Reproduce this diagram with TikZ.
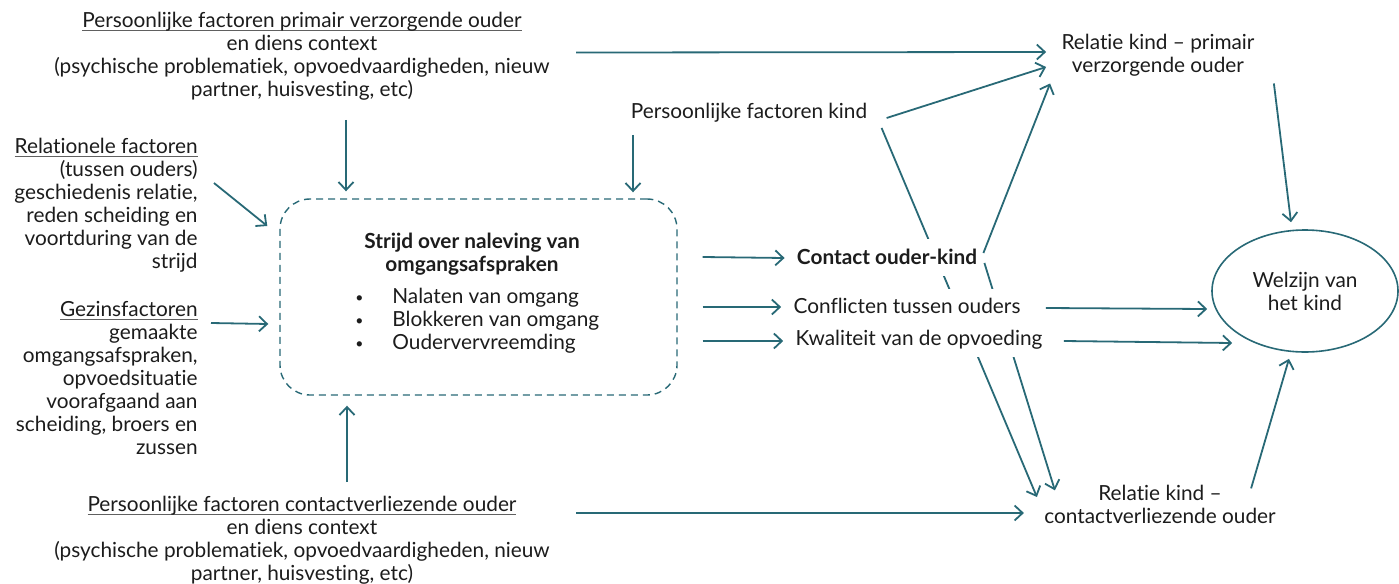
\documentclass[tikz,border=0pt]{standalone}
\usepackage{fontspec}
\setmainfont{Lato}[Ligatures={TeX,NoCommon}]
\usetikzlibrary{arrows.meta}
\usetikzlibrary{shapes.geometric}
\usetikzlibrary{backgrounds}
\usetikzlibrary{calc}

\definecolor{lijn}{RGB}{40,105,118}
\definecolor{tekst}{RGB}{28,28,28}

% underline just below the baseline
\newcommand{\ondlijn}[1]{\setbox0\hbox{#1}\rlap{\color{tekst!70}\rule[-1.6pt]{\wd0}{0.45pt}}\box0}
% small bullet for the list
\newcommand{\punt}{\makebox[18.5pt][l]{\raisebox{0.4pt}{\fontsize{7}{7}\selectfont\textbullet}}}

\tikzset{
  txt/.style={font=\fontsize{10.4}{11.5}\selectfont, text=tekst, inner sep=0pt},
  vet/.style={txt, font=\fontsize{10.4}{11.5}\selectfont\bfseries},
  midden/.style={txt, fill=white, inner xsep=1pt, minimum height=17pt},
  pijl/.style={draw=lijn, line width=0.9pt, -{Straight Barb[length=4pt,width=7.5pt,line width=0.9pt]}},
}

\begin{document}
\begin{tikzpicture}[x=0.5pt,y=-0.5pt]
    \useasboundingbox (0,0) rectangle (1399,584);

    % factors round the conflict
    \node[txt, align=center] (prim) at (302,56.5) {\ondlijn{Persoonlijke factoren primair verzorgende ouder}\\en diens context\\(psychische problematiek, opvoedvaardigheden, nieuw\\partner, huisvesting, etc)};
    \node[txt, align=right, anchor=east] (relat) at (198,205) {\ondlijn{Relationele factoren}\\(tussen ouders)\\geschiedenis relatie,\\reden scheiding en\\voortduring van de\\strijd};
    \node[txt, align=right, anchor=east] (gezin) at (198,378) {\ondlijn{Gezinsfactoren}\\gemaakte\\omgangsafspraken,\\opvoedsituatie\\voorafgaand aan\\scheiding, broers en\\zussen};
    \node[txt, align=center] (verl) at (302,540.5) {\ondlijn{Persoonlijke factoren contactverliezende ouder}\\en diens context\\(psychische problematiek, opvoedvaardigheden, nieuw\\partner, huisvesting, etc)};
    \node[txt] (kind) at (749,113) {Persoonlijke factoren kind};

    % the conflict itself
    \node[draw=lijn, line width=0.7pt, dash pattern=on 3.5pt off 2.5pt, rounded corners=15pt, minimum width=198.5pt, minimum height=98pt] (strijd) at (478.5,297) {};
    \node[vet, align=center] (titel) at (472,254) {Strijd over naleving van\\omgangsafspraken};
    \node[txt, align=left, anchor=west] (lijst) at (355,321) {\punt Nalaten van omgang\\\punt Blokkeren van omgang\\\punt Oudervervreemding};

    % what it leads to
    \node[vet, fill=white, inner xsep=1pt, minimum height=18.5pt] (contact) at (887,257) {Contact ouder-kind};
    \node[midden] (conflict) at (907,306) {Conflicten tussen ouders};
    \node[midden] (kwal) at (919,340) {Kwaliteit van de opvoeding};
    \node[txt, align=center] (relprim) at (1158,55) {Relatie kind -- primair\\verzorgende ouder};
    \node[txt, align=center] (relverl) at (1160,504) {Relatie kind --\\contactverliezende ouder};
    \node[txt, align=center, ellipse, draw=lijn, line width=0.8pt, minimum width=93pt, minimum height=61pt] (welzijn) at (1305,291) {Welzijn van\\het kind};

    % arrows into the conflict
    \draw[pijl] ([shift={(44,19)}]prim.south) -- ([shift={(-132.5,-7)}]strijd.north);
    \draw[pijl] ($([xshift=77.25pt]strijd.north |- kind.south)+(0,12)$) -- ([shift={(154.5,-6)}]strijd.north);
    \draw[pijl] ([shift={(16,-22)}]relat.east) -- ([shift={(-12,-71)}]strijd.west);
    \draw[pijl] ([shift={(13,-55)}]gezin.east) -- ([shift={(-11,27)}]strijd.west);
    \draw[pijl] ([shift={(45,-14)}]verl.north) -- ([shift={(-131.5,10)}]strijd.south);

    % arrows out of the conflict
    \foreach \doel/\dy in {contact/-40, conflict/10, kwal/44}
        \draw[pijl] ([shift={(25,\dy)}]strijd.east) -- ([shift={(-10,1)}]\doel.west);

    % arrows towards the relations
    \draw[pijl] ([shift={(26,-4)}]prim.east) -- ([shift={(-15,-3)}]relprim.west);
    \draw[pijl] ([shift={(26,-27.5)}]verl.east) -- ([shift={(-20,9)}]relverl.west);
    \draw[pijl] ([shift={(19,5)}]kind.east) -- ([shift={(-15,12)}]relprim.west);
    \draw[pijl] ([shift={(4,-4)}]contact.east) -- ([shift={(-11,7)}]relprim.south west);
    \begin{pgfonlayer}{background}
        \draw[pijl] ([shift={(14,5)}]kind.south east) -- ([shift={(-7,-7)}]relverl.west);
        \draw[pijl] ([shift={(5,6)}]contact.east) -- ([shift={(11,6)}]relverl.north west);
    \end{pgfonlayer}

    % arrows towards the child
    \draw[pijl] ([shift={(19,7)}]relprim.south east) -- ([shift={(-14,-7)}]welzijn.north);
    \draw[pijl] ([shift={(-25,4)}]relverl.north east) -- ([shift={(-16,6)}]welzijn.south);
    \draw[pijl] ([shift={(23,2)}]conflict.east) -- ([shift={(-4,18)}]welzijn.west);
    \draw[pijl] ([shift={(19,1)}]kwal.east) -- ([shift={(21,52)}]welzijn.west);

\end{tikzpicture}
\end{document}
